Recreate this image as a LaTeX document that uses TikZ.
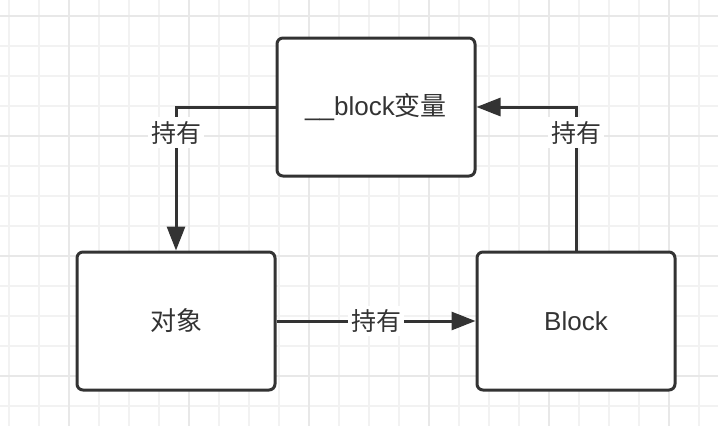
\documentclass[tikz,border=0pt]{standalone}
\usepackage{fontspec}
\setmainfont{Liberation Sans}
\newfontfamily\cjk{Noto Sans CJK SC}
\usetikzlibrary{arrows.meta}
\definecolor{ink}{HTML}{333333}
\definecolor{gridminor}{HTML}{F2F2F2}
\definecolor{gridmajor}{HTML}{E8E8E8}
\begin{document}
\begin{tikzpicture}[x=1pt,y=-1pt,
  box/.style={draw=ink, line width=3pt, rounded corners=6pt, minimum width=198pt,
    minimum height=138pt, fill=white, text=ink, font=\fontsize{26}{30}\selectfont},
  conn/.style={draw=ink, line width=3pt},
  tip/.style={-{Triangle[length=24pt,width=18pt]}},
  lbl/.style={fill=white, text=ink, font=\cjk\fontsize{25}{30}\selectfont,
    inner xsep=3pt, inner ysep=4pt}]
\useasboundingbox (0,0) rectangle (718,426);
\fill[white] (0,0) rectangle (718,426);
\foreach \x in {9,39,...,699} \draw[gridminor, line width=2pt] (\x,0) -- (\x,426);
\foreach \y in {16,46,...,406} \draw[gridminor, line width=2pt] (0,\y) -- (718,\y);
\foreach \x in {69,189,...,669} \draw[gridmajor, line width=2pt] (\x,0) -- (\x,426);
\foreach \y in {16,136,...,376} \draw[gridmajor, line width=2pt] (0,\y) -- (718,\y);

\node[box] (var) at (376,107) {\_\_block{\cjk 变量}};
\node[box] (obj) at (176,321) {\cjk 对象};
\node[box] (blk) at (576,321) {Block};

\draw[conn, tip] (var.west) -| node[lbl, pos=0.59] (l1) {持有} (obj.north);
\draw[conn, tip] (blk.north) |- node[lbl, pos=0.41] (l2) {持有} (var.east);
\draw[conn, tip] (obj.east) -- node[lbl, pos=0.5] (l3) {持有} (blk.west);
\end{tikzpicture}
\end{document}
